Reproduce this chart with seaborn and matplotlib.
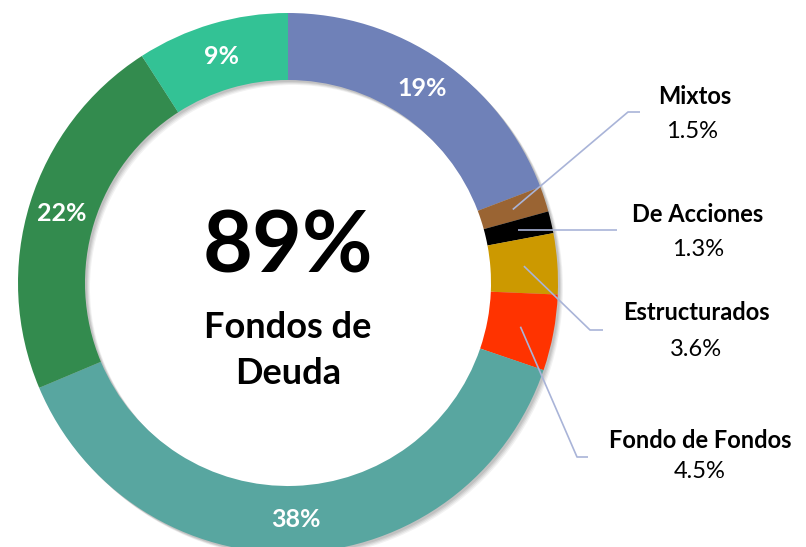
import numpy as np
import seaborn as sns
import matplotlib.pyplot as plt

sns.set_theme(style="white")
plt.rcParams['font.family'] = ['Lato', 'DejaVu Sans']

# data (clockwise from 12 o'clock)
names = ['Deuda A', 'Mixtos', 'De Acciones', 'Estructurados', 'Fondo de Fondos',
         'Deuda B', 'Deuda C', 'Deuda D']
values = [19, 1.5, 1.3, 3.6, 4.5, 38, 22, 9]
inner_labels = ['19%', '', '', '', '', '38%', '22%', '9%']
side_labels = ['Mixtos', 'De Acciones', 'Estructurados', 'Fondo de Fondos']
side_values = ['1.5%', '1.3%', '3.6%', '4.5%']
colors = ['#6F81B8', '#9A6433', '#000000', '#CC9900', '#FF3300',
          '#58A6A0', '#338B4E', '#33C295']

W, H = 806, 547
fig = plt.figure(figsize=(W / 100, H / 100), dpi=100)
ax = fig.add_axes([0, 0, 1, 1])

cx, cy, R = 288, H - 283, 270
width = 67

# soft shadow under the ring
for k, a in [(5, 0.05), (4, 0.06), (3, 0.07), (2, 0.08)]:
    ax.pie([1], colors=['black'], center=(cx + k, cy - k), radius=R,
           frame=True, wedgeprops=dict(width=width, linewidth=0, alpha=a))

wedges, _ = ax.pie(values, colors=colors, startangle=90, counterclock=False,
                   center=(cx, cy), radius=R, frame=True,
                   wedgeprops=dict(width=width, linewidth=0))
ax.set_xlim(0, W)
ax.set_ylim(0, H)
ax.set_aspect('equal')
ax.axis('off')

rmid = R - width / 2


def mid_point(w, r=rmid):
    a = np.deg2rad((w.theta1 + w.theta2) / 2)
    return cx + r * np.cos(a), cy + r * np.sin(a)


# percentages on the ring
for w, lab in zip(wedges, inner_labels):
    if lab:
        x, y = mid_point(w)
        ax.text(x, y, lab, color='white', fontsize=18, fontweight='bold',
                ha='center', va='center')

# leader lines + side labels for the small slices
elbows = [(628, H - 112), (None, None), (590, H - 330), (577, H - 457)]
ends = [(640, H - 112), (617, None), (603, H - 330), (588, H - 457)]
name_pos = [(695, H - 97), (698, H - 214), (696, H - 313), (700, H - 440)]
val_pos = [(692, H - 132), (698, H - 250), (696, H - 350), (700, H - 472)]

for i, w in enumerate(wedges[1:5]):
    x0, y0 = mid_point(w)
    ex, ey = elbows[i]
    fx, fy = ends[i]
    if ex is None:
        xs, ys = [x0, fx], [y0, y0]
    else:
        xs, ys = [x0, ex, fx], [y0, ey, fy]
    ax.plot(xs, ys, color='#A9B4D8', lw=1.2, solid_capstyle='butt')
    ax.text(*name_pos[i], side_labels[i], fontsize=17, fontweight='bold',
            ha='center', va='center', color='black')
    ax.text(*val_pos[i], side_values[i], fontsize=17, ha='center',
            va='center', color='black')

# center text
ax.text(cx, H - 248, '89%', fontsize=62, fontweight='bold',
        ha='center', va='center', color='black')
ax.text(cx, H - 327, 'Fondos de', fontsize=26, fontweight='bold',
        ha='center', va='center', color='black')
ax.text(cx, H - 374, 'Deuda', fontsize=26, fontweight='bold',
        ha='center', va='center', color='black')

fig.savefig('out.png', dpi=100, facecolor='white')
